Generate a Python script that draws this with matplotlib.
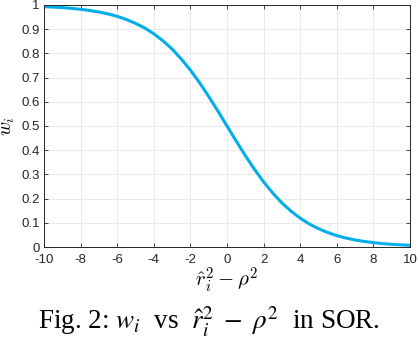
import matplotlib
matplotlib.use("Agg")
import matplotlib.pyplot as plt

# values
x_vals = [-10, -9.5, -9, -8.5, -8, -7.5, -7, -6.5, -6, -5.5, -5, -4.5, -4, -3.5, -3, -2.5, -2, -1.5, -1, -0.5,
          0, 0.5, 1, 1.5, 2, 2.5, 3, 3.5, 4, 4.5, 5, 5.5, 6, 6.5, 7, 7.5, 8, 8.5, 9, 9.5, 10]
w_vals = [0.993, 0.991, 0.989, 0.986, 0.982, 0.977, 0.971, 0.963, 0.953, 0.940, 0.924, 0.905, 0.881, 0.852,
          0.818, 0.777, 0.731, 0.679, 0.622, 0.562, 0.500, 0.438, 0.378, 0.321, 0.269, 0.223, 0.182, 0.148,
          0.119, 0.095, 0.076, 0.060, 0.047, 0.037, 0.029, 0.023, 0.018, 0.014, 0.011, 0.009, 0.007]
x_ticks = list(range(-10, 11, 2))
y_ticks = [0, 0.1, 0.2, 0.3, 0.4, 0.5, 0.6, 0.7, 0.8, 0.9, 1]
y_ticklabels = ['0', '0.1', '0.2', '0.3', '0.4', '0.5', '0.6', '0.7', '0.8', '0.9', '1']

plt.rcParams['font.family'] = ['Liberation Sans', 'DejaVu Sans']
fig = plt.figure(figsize=(4.18, 3.40), dpi=100)
ax = fig.add_axes([0.105, 0.2735, 0.876, 0.712])

ax.plot(x_vals, w_vals, color='#00AEEA', linewidth=2.2, solid_capstyle='butt')

ax.set_xlim(-10, 10)
ax.set_ylim(0, 1)
ax.set_xticks(x_ticks)
ax.set_xticklabels([str(t) for t in x_ticks])
ax.set_yticks(y_ticks)
ax.set_yticklabels(y_ticklabels)
ax.grid(True, color='#e6e6e6', linewidth=0.6)
ax.set_axisbelow(True)
ax.tick_params(direction='in', top=True, right=True, length=3, width=0.6,
               labelsize=9.5, colors='#262626')
ax.tick_params(axis='x', pad=5)
ax.tick_params(axis='y', pad=3)
for s in ax.spines.values():
    s.set_color('#262626')
    s.set_linewidth(0.7)

ax.set_xlabel(r'$\hat{r}_i^2 - \rho^2$', fontsize=15, math_fontfamily='cm', labelpad=0)
ax.set_ylabel(r'$w_i$', fontsize=14, math_fontfamily='cm', labelpad=3)

fig.text(0.5, 0.053, r'Fig. 2: $w_i$  vs  $\hat{r}_i^2\ -\ \rho^2$  in SOR.', ha='center', va='center',
         fontsize=19.5, family='Liberation Serif', math_fontfamily='stix')

fig.savefig('out.png', dpi=100)
